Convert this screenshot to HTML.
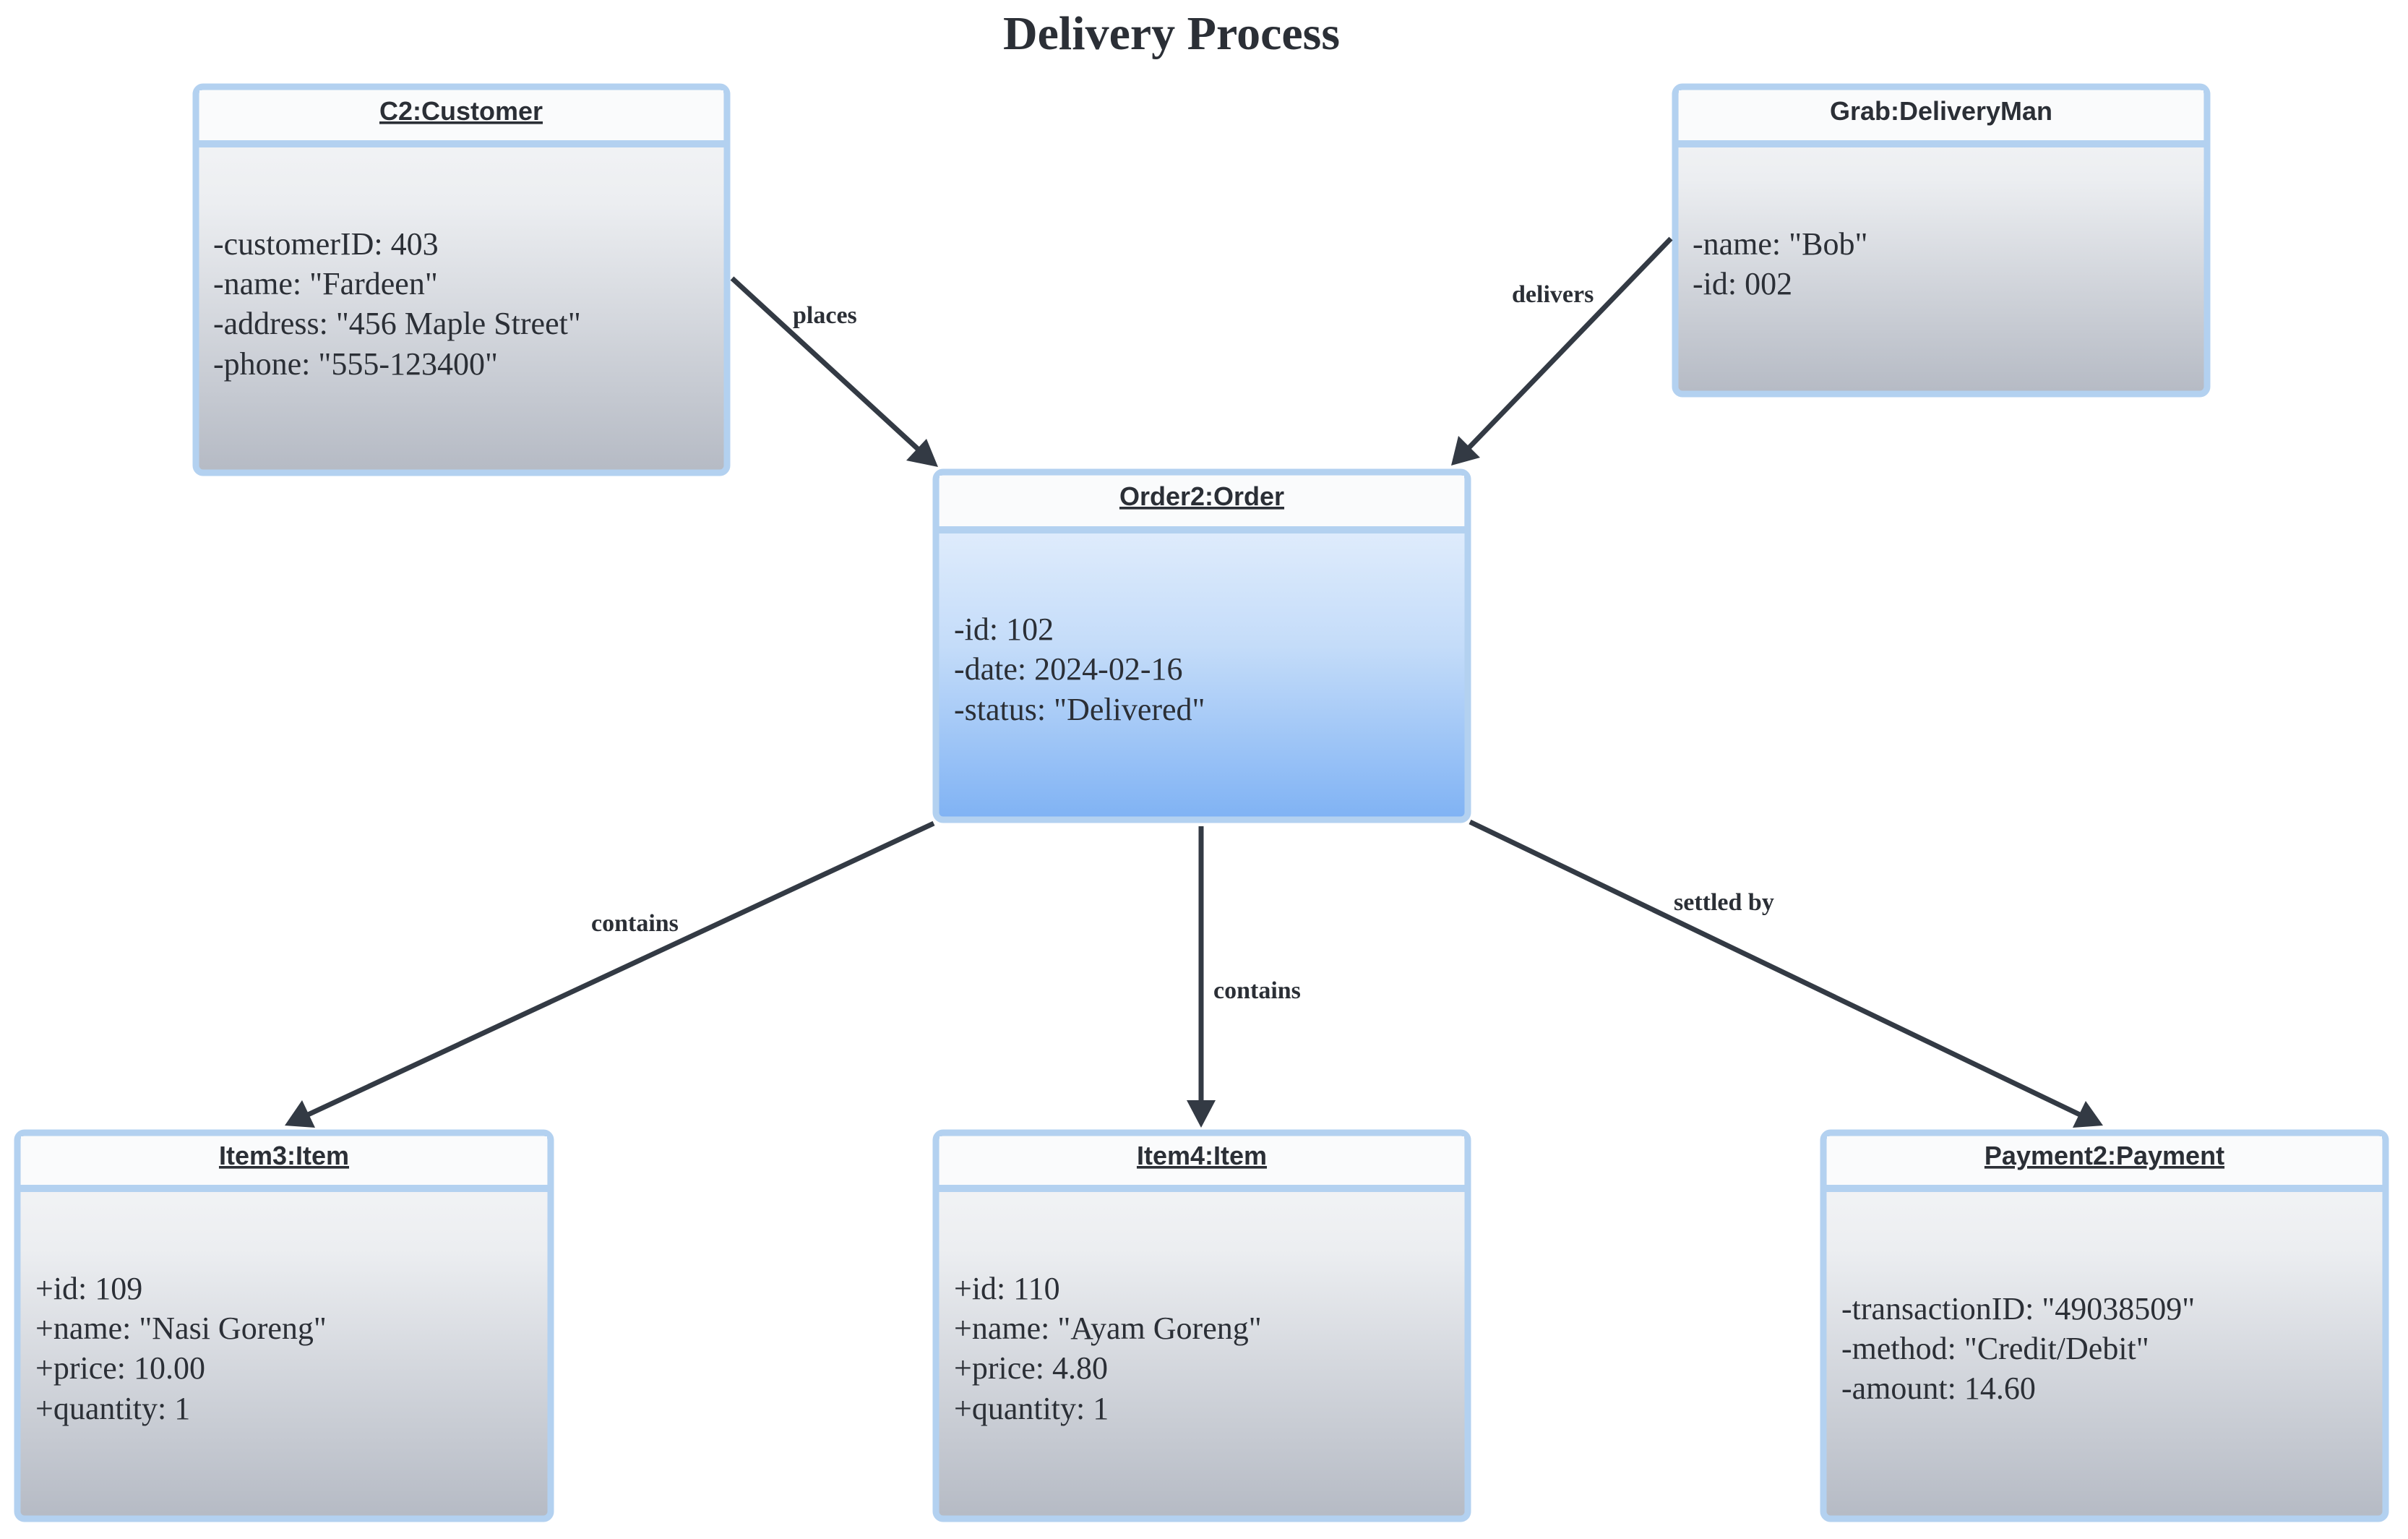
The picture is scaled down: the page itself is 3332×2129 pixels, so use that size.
<!DOCTYPE html>
<html><head><meta charset="utf-8"><style>
html,body{margin:0;padding:0;background:#fff;}
svg{display:block;}
.h{font-family:"Liberation Sans",sans-serif;font-weight:bold;font-size:36px;fill:#2b2f36;text-decoration:underline;}
.a{font-family:"Liberation Serif",serif;font-size:44px;fill:#2b2f36;}
.l{font-family:"Liberation Serif",serif;font-weight:bold;font-size:34px;fill:#2b2f36;}
</style></head><body>
<svg width="3332" height="2129" viewBox="0 0 3332 2129" xmlns="http://www.w3.org/2000/svg">
<defs>
<linearGradient id="g" x1="0" y1="0" x2="0" y2="1"><stop offset="0" stop-color="#f6f7f8"/><stop offset="0.3" stop-color="#eceef1"/><stop offset="1" stop-color="#b5bac4"/></linearGradient>
<linearGradient id="b" x1="0" y1="0" x2="0" y2="1"><stop offset="0" stop-color="#edf4fd"/><stop offset="0.5" stop-color="#c4dcf9"/><stop offset="1" stop-color="#7fb2f4"/></linearGradient>
</defs>
<text x="1621" y="68" text-anchor="middle" font-family="Liberation Serif,serif" font-weight="bold" font-size="66" fill="#2b2f36">Delivery Process</text>

<g stroke="#b3d1f0" stroke-width="9">
<rect x="271" y="120" width="735" height="534" rx="10" fill="url(#g)"/>
<rect x="2318" y="120" width="736" height="425" rx="10" fill="url(#g)"/>
<rect x="1295" y="653" width="736" height="481" rx="10" fill="url(#b)"/>
<rect x="24" y="1567" width="738" height="534" rx="10" fill="url(#g)"/>
<rect x="1295" y="1567" width="736" height="534" rx="10" fill="url(#g)"/>
<rect x="2523" y="1567" width="778" height="534" rx="10" fill="url(#g)"/>
</g>
<g fill="#fafbfc">
<rect x="276" y="125" width="725" height="74"/>
<rect x="2323" y="125" width="726" height="74"/>
<rect x="1300" y="658" width="726" height="74"/>
<rect x="29" y="1572" width="728" height="70"/>
<rect x="1300" y="1572" width="726" height="70"/>
<rect x="2528" y="1572" width="768" height="70"/>
</g>
<g stroke="#b3d1f0" stroke-width="10">
<line x1="271" y1="199" x2="1006" y2="199"/>
<line x1="2318" y1="199" x2="3054" y2="199"/>
<line x1="1295" y1="733" x2="2031" y2="733"/>
<line x1="24" y1="1644" x2="762" y2="1644"/>
<line x1="1295" y1="1644" x2="2031" y2="1644"/>
<line x1="2523" y1="1644" x2="3301" y2="1644"/>
</g>
<text class="h" x="638" y="166" text-anchor="middle">C2:Customer</text>
<text class="h" x="2686" y="166" text-anchor="middle" style="text-decoration:none">Grab:DeliveryMan</text>
<text class="h" x="1663" y="699" text-anchor="middle">Order2:Order</text>
<text class="h" x="393" y="1611" text-anchor="middle">Item3:Item</text>
<text class="h" x="1663" y="1611" text-anchor="middle">Item4:Item</text>
<text class="h" x="2912" y="1611" text-anchor="middle">Payment2:Payment</text>

<text class="a" x="295" y="352">-customerID: 403</text>
<text class="a" x="295" y="407">-name: "Fardeen"</text>
<text class="a" x="295" y="462">-address: "456 Maple Street"</text>
<text class="a" x="295" y="518">-phone: "555-123400"</text>
<text class="a" x="2342" y="352">-name: "Bob"</text>
<text class="a" x="2342" y="407">-id: 002</text>
<text class="a" x="1320" y="885">-id: 102</text>
<text class="a" x="1320" y="940">-date: 2024-02-16</text>
<text class="a" x="1320" y="996">-status: "Delivered"</text>
<text class="a" x="49" y="1797">+id: 109</text>
<text class="a" x="49" y="1852">+name: "Nasi Goreng"</text>
<text class="a" x="49" y="1907">+price: 10.00</text>
<text class="a" x="49" y="1963">+quantity: 1</text>
<text class="a" x="1320" y="1797">+id: 110</text>
<text class="a" x="1320" y="1852">+name: "Ayam Goreng"</text>
<text class="a" x="1320" y="1907">+price: 4.80</text>
<text class="a" x="1320" y="1963">+quantity: 1</text>
<text class="a" x="2548" y="1825">-transactionID: "49038509"</text>
<text class="a" x="2548" y="1880">-method: "Credit/Debit"</text>
<text class="a" x="2548" y="1935">-amount: 14.60</text>

<g stroke="#333a44" stroke-width="7" fill="none">
<line x1="1013" y1="385" x2="1270" y2="621"/>
<line x1="2312" y1="330" x2="2032" y2="620"/>
<line x1="1292" y1="1139" x2="424" y2="1543"/>
<line x1="1662" y1="1143" x2="1662" y2="1528"/>
<line x1="2034" y1="1137" x2="2880" y2="1543"/>
</g>
<g fill="#333a44">
<polygon points="1298,646 1254,637 1282,607"/>
<polygon points="2008,644 2018,603 2048,633"/>
<polygon points="394,1557 418,1522 436,1560"/>
<polygon points="1662,1560 1642,1522 1682,1522"/>
<polygon points="2910,1557 2868,1560 2886,1523"/>
</g>
<text class="l" x="1097" y="447">places</text>
<text class="l" x="2092" y="418">delivers</text>
<text class="l" x="818" y="1288">contains</text>
<text class="l" x="1679" y="1381">contains</text>
<text class="l" x="2316" y="1259">settled by</text>
</svg>
</body></html>
